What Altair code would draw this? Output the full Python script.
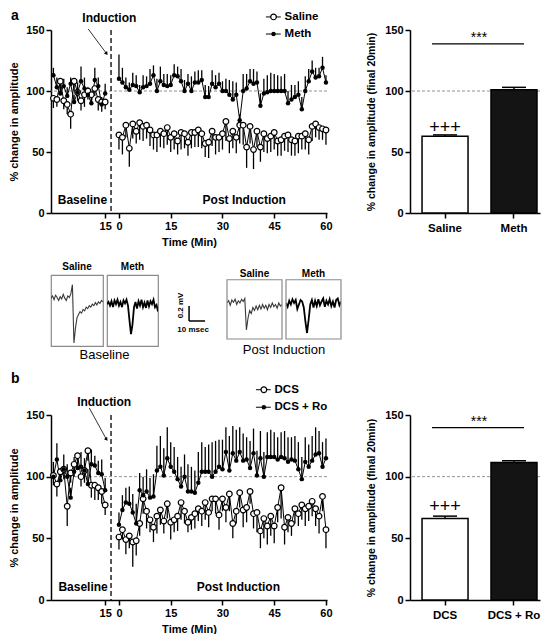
import altair as alt
import pandas as pd

FONT = "Liberation Sans"

# ---------------- shared time axis ----------------
base_minutes = list(range(16))
post_minutes = list(range(61))
post_offset = 19            # post-induction minute 0 sits at 19 on the shared axis
induction_at = 16.7
tick_values = [15, 19, 34, 49, 64, 79]

# ---------------- panel a : time course ----------------
saline_a_base = [94, 93, 108, 92, 89, 81, 108, 99, 92, 97, 100, 97, 102, 93, 91, 91]
saline_a_base_err = [8, 6, 6, 7, 8, 12, 8, 7, 8, 10, 7, 8, 6, 9, 8, 6]
meth_a_base = [113, 103, 98, 104, 96, 106, 91, 99, 108, 102, 97, 90, 109, 104, 89, 98]
meth_a_base_err = [6, 8, 5, 6, 7, 5, 6, 8, 12, 9, 6, 8, 10, 7, 6, 8]

saline_a_post = [64, 62, 72, 53, 73, 67, 74, 71, 72, 68,
                 64, 64, 67, 65, 70, 62, 65, 59, 66, 65,
                 58, 66, 66, 68, 65, 57, 58, 67, 62, 62,
                 65, 75, 61, 67, 62, 72, 72, 54, 71, 52,
                 67, 54, 65, 61, 63, 66, 59, 60, 63, 64,
                 60, 59, 63, 63, 65, 60, 71, 73, 70, 69,
                 68]
saline_a_post_err = [12, 14, 10, 15, 12, 10, 14, 12, 11, 13,
                     12, 14, 13, 12, 14, 12, 13, 11, 14, 12,
                     11, 13, 12, 14, 12, 11, 13, 12, 14, 12,
                     13, 16, 12, 14, 13, 15, 16, 17, 14, 16,
                     13, 12, 15, 12, 13, 14, 12, 13, 12, 14,
                     13, 12, 14, 11, 13, 12, 12, 11, 10, 9,
                     12]
meth_a_post = [110, 107, 103, 101, 105, 104, 99, 103, 104, 106,
               113, 100, 108, 105, 104, 105, 113, 112, 108, 100,
               106, 100, 107, 107, 109, 95, 95, 106, 103, 106,
               100, 100, 97, 93, 97, 76, 100, 102, 108, 106,
               107, 88, 98, 99, 100, 100, 100, 100, 100, 90,
               93, 95, 97, 85, 100, 108, 116, 111, 112, 119,
               107]
meth_a_post_err = [20, 12, 8, 6, 10, 9, 6, 10, 8, 12,
                   8, 10, 12, 9, 10, 8, 9, 8, 10, 9,
                   8, 12, 9, 10, 8, 10, 9, 11, 10, 9,
                   8, 10, 12, 15, 10, 5, 14, 12, 10, 12,
                   9, 10, 12, 14, 15, 14, 13, 12, 14, 10,
                   12, 10, 11, 10, 12, 10, 9, 8, 7, 9,
                   6]

# ---------------- panel b : time course ----------------
dcs_b_base = [101, 94, 104, 106, 76, 103, 110, 117, 100, 105, 121, 93, 93, 91, 88, 77]
dcs_b_base_err = [8, 10, 8, 8, 16, 8, 10, 6, 8, 10, 8, 10, 12, 10, 10, 8]
ro_b_base = [100, 114, 97, 106, 100, 83, 104, 107, 108, 105, 94, 110, 109, 103, 102, 89]
ro_b_base_err = [12, 13, 10, 12, 10, 8, 12, 10, 12, 10, 12, 12, 8, 10, 12, 10]

dcs_b_post = [51, 57, 49, 52, 47, 48, 62, 82, 72, 65,
              59, 68, 73, 64, 78, 63, 65, 68, 79, 72,
              63, 67, 70, 74, 72, 79, 71, 82, 82, 69,
              82, 75, 86, 62, 72, 87, 73, 75, 88, 70,
              71, 56, 66, 60, 68, 60, 75, 91, 59, 67,
              62, 74, 70, 77, 74, 76, 80, 74, 68, 84,
              57]
dcs_b_post_err = [10, 8, 12, 10, 20, 12, 10, 12, 14, 10,
                  12, 14, 12, 10, 12, 14, 10, 12, 14, 10,
                  8, 10, 12, 10, 12, 14, 12, 10, 12, 12,
                  10, 12, 14, 12, 10, 12, 14, 12, 10, 12,
                  16, 14, 16, 15, 16, 14, 12, 25, 14, 12,
                  10, 12, 10, 12, 14, 12, 12, 14, 14, 12,
                  15]
ro_b_post = [61, 73, 79, 78, 71, 62, 89, 85, 88, 83,
             84, 105, 108, 101, 115, 108, 104, 98, 92, 100,
             88, 88, 87, 95, 104, 104, 104, 100, 104, 108,
             106, 120, 105, 119, 113, 120, 113, 114, 107, 119,
             101, 115, 100, 116, 116, 116, 114, 116, 115, 112,
             114, 113, 106, 98, 112, 108, 113, 118, 119, 108,
             115]
ro_b_post_err = [10, 12, 12, 14, 15, 16, 14, 15, 18, 16,
                 18, 20, 25, 22, 25, 20, 20, 18, 16, 18,
                 22, 20, 18, 25, 24, 20, 22, 28, 25, 22,
                 24, 20, 28, 22, 25, 20, 22, 18, 22, 20,
                 20, 22, 20, 20, 22, 20, 18, 20, 22, 20,
                 18, 20, 22, 18, 20, 18, 20, 22, 18, 20,
                 16]

# ---------------- summary bars ----------------
cats_a = ["Saline", "Meth"]
means_a = [63, 101]
sems_a = [1, 2]
cats_b = ["DCS", "DCS + Ro"]
means_b = [66, 111.4]
sems_b = [2, 1.5]

# ---------------- example traces (mV vs ms) ----------------
trace_ms = list(range(35))
trace_base_saline = [0.00, 0.03, -0.02, 0.04, 0.01, -0.03, 0.02, -0.01, 0.05, 0.00,
                     -0.03, 0.03, 0.01, 0.06, 0.18, -0.60, -0.40, -0.26, -0.22, -0.18,
                     -0.20, -0.15, -0.17, -0.12, -0.14, -0.10, -0.12, -0.08, -0.10, -0.06,
                     -0.09, -0.05, -0.07, -0.03, -0.05]
trace_base_meth = [-0.08, -0.05, -0.10, -0.04, -0.12, -0.03, -0.08, -0.02, -0.10, -0.05,
                   -0.12, -0.03, -0.07, -0.02, -0.10, -0.30, -0.48, -0.35, -0.12, -0.05,
                   -0.14, -0.04, -0.10, -0.02, -0.12, -0.06, -0.13, -0.03, -0.11, -0.04,
                   -0.08, -0.02, -0.12, -0.09, -0.18]
trace_post_saline = [0.00, 0.03, -0.03, 0.04, 0.01, 0.05, -0.02, 0.03, 0.00, 0.05,
                     0.02, 0.06, -0.36, -0.20, -0.10, -0.14, -0.06, -0.10, -0.04, -0.09,
                     -0.03, -0.08, -0.02, -0.07, -0.03, -0.09, -0.02, -0.06, 0.00, -0.05,
                     -0.02, -0.07, 0.00, -0.04, -0.02]
trace_post_meth = [0.00, -0.05, 0.03, -0.02, 0.05, 0.00, 0.04, -0.08, -0.02, 0.04,
                   0.02, -0.06, -0.25, -0.40, -0.22, -0.02, 0.04, -0.06, 0.03, -0.04,
                   0.05, -0.03, 0.02, 0.06, -0.05, 0.03, -0.02, 0.05, -0.04, 0.02,
                   -0.06, 0.04, 0.06, -0.03, 0.02]
base_window_mv = [-0.64, 0.31]
post_window_mv = [-0.48, 0.31]
scale_bar_ms = 10
scale_bar_mv = 0.2


def course(base_vals, base_err, post_vals, post_err, up):
    tc = base_minutes + [m + post_offset for m in post_minutes]
    vals = base_vals + post_vals
    errs = base_err + post_err
    seg = ["base"] * len(base_vals) + ["post"] * len(post_vals)
    end = [v + e if up else v - e for v, e in zip(vals, errs)]
    return pd.DataFrame({"tc": tc, "value": vals, "end": end, "seg": seg})


def time_course(df_open, df_fill, labels, leg_y, leg_x, notes, arrow, letter, letter_y, height):
    xs = alt.Scale(domain=[-0.7, 79.3], nice=False, zero=False)
    ys = alt.Scale(domain=[0, 150], nice=False, zero=False)
    xax = alt.Axis(values=tick_values,
                   labelExpr="datum.value < 17 ? '15' : format(datum.value - 19, 'd')",
                   title="Time (Min)", labelFlush=False, labelOverlap=False, titlePadding=5)
    yax = alt.Axis(values=[0, 50, 100, 150], title="% change in amplitude", titlePadding=6)

    def X(f):
        return alt.X(f, type="quantitative", scale=xs, axis=xax)

    def Y(f):
        return alt.Y(f, type="quantitative", scale=ys, axis=yax)

    hundred = alt.Chart(pd.DataFrame({"v": [100]})).mark_rule(
        color="#777777", strokeWidth=0.8, strokeDash=[3, 2]).encode(y=Y("v"))
    vline = alt.Chart(pd.DataFrame({"v": [induction_at]})).mark_rule(
        color="black", strokeWidth=1.3, strokeDash=[5, 3]).encode(x=X("v"))

    def err(df):
        return alt.Chart(df).mark_rule(color="black", strokeWidth=1.3).encode(
            x=X("tc"), y=Y("value"), y2="end")

    def line(df):
        return alt.Chart(df).mark_line(color="black", strokeWidth=1).encode(
            x=X("tc"), y=Y("value"), detail="seg:N")

    def open_pts(df, xf, yf):
        return alt.Chart(df).mark_point(shape="circle", filled=True, fill="white", stroke="black",
                                        strokeWidth=1.2, size=32, opacity=1).encode(x=X(xf), y=Y(yf))

    def fill_pts(df, xf, yf):
        return alt.Chart(df).mark_point(shape="circle", filled=True, color="black",
                                        size=20, opacity=1).encode(x=X(xf), y=Y(yf))

    leg = pd.DataFrame({"x0": [leg_x[0]] * 2, "x1": [leg_x[1]] * 2, "xs": [leg_x[2]] * 2,
                        "xt": [leg_x[3]] * 2, "y": leg_y, "label": labels})
    leg_line = alt.Chart(leg).mark_rule(color="black", strokeWidth=1).encode(
        x=X("x0"), x2="x1", y=Y("y"))
    leg_text = alt.Chart(leg).mark_text(align="left", baseline="middle", fontSize=11.5,
                                        fontWeight="bold").encode(x=X("xt"), y=Y("y"), text="label")

    ndf = pd.DataFrame(notes, columns=["label", "x", "y"])
    note_text = alt.Chart(ndf).mark_text(fontSize=12, fontWeight="bold", baseline="middle").encode(
        x=X("x"), y=Y("y"), text="label")

    ldf = pd.DataFrame({"label": [letter], "x": [-12.3], "y": [letter_y]})
    letter_text = alt.Chart(ldf).mark_text(fontSize=14, fontWeight="bold", align="left",
                                           baseline="top").encode(
        x=X("x"), y=Y("y"), text="label")

    adf = pd.DataFrame({"x": [arrow[0]], "y": [arrow[1]], "x2": [arrow[2]], "y2": [arrow[3]]})
    arr_line = alt.Chart(adf).mark_rule(color="black", strokeWidth=0.8).encode(
        x=X("x"), y=Y("y"), x2="x2", y2="y2")
    arr_head = alt.Chart(adf).mark_point(shape="triangle", filled=True, color="black", size=16,
                                         angle=143, opacity=1).encode(x=X("x2"), y=Y("y2"))

    return alt.layer(
        hundred, vline, err(df_open), err(df_fill), line(df_open), line(df_fill),
        open_pts(df_open, "tc", "value"), fill_pts(df_fill, "tc", "value"),
        leg_line, open_pts(leg.iloc[[0]], "xs", "y"), fill_pts(leg.iloc[[1]], "xs", "y"), leg_text,
        note_text, letter_text, arr_line, arr_head,
    ).properties(width=276, height=height)


def summary(cats, means, sems, plus_y, sig_y, star_y, height):
    xs = alt.Scale(domain=cats, paddingInner=0.333, paddingOuter=0.109, align=0.8)
    xax = alt.Axis(title=None, labelAngle=0, labelFontSize=11.5, labelPadding=4)
    ys = alt.Scale(domain=[0, 150], nice=False, zero=False)
    yax = alt.Axis(values=[0, 50, 100, 150], title="% change in amplitude (final 20min)",
                   titlePadding=8, titleFontSize=10.5)

    def X(f):
        return alt.X(f, type="nominal", scale=xs, axis=xax, sort=cats)

    def Y(f):
        return alt.Y(f, type="quantitative", scale=ys, axis=yax)

    df = pd.DataFrame({"cat": cats, "mean": means, "top": [m + s for m, s in zip(means, sems)]})
    hundred = alt.Chart(pd.DataFrame({"v": [100]})).mark_rule(
        color="#777777", strokeWidth=0.8, strokeDash=[3, 2]).encode(y=Y("v"))
    bars = alt.Chart(df).mark_bar(stroke="black", strokeWidth=1.5).encode(
        x=X("cat"), y=Y("mean"),
        fill=alt.Fill("cat:N", scale=alt.Scale(domain=cats, range=["white", "#141414"]), legend=None))
    errbar = alt.Chart(df).mark_rule(color="black", strokeWidth=1.5).encode(
        x=X("cat"), y=Y("mean"), y2="top")
    cap = alt.Chart(df).mark_tick(color="black", thickness=1.5, size=24, opacity=1).encode(
        x=X("cat"), y=Y("top"))
    pdf = pd.DataFrame({"cat": [cats[0]], "y": [plus_y], "label": ["+++"]})
    plus = alt.Chart(pdf).mark_text(fontSize=18, fontWeight="normal", baseline="middle").encode(
        x=X("cat"), y=Y("y"), text="label")
    sdf = pd.DataFrame({"c1": [cats[0]], "c2": [cats[1]], "y": [sig_y], "ys": [star_y], "label": ["***"]})
    sig = alt.Chart(sdf).mark_rule(color="black", strokeWidth=1.3, xOffset=-13, x2Offset=10).encode(
        x=X("c1"), x2="c2", y=Y("y"))
    star = alt.Chart(sdf).mark_text(fontSize=14, dx=34, baseline="middle").encode(
        x=X("c1"), y=Y("ys"), text="label")
    return alt.layer(hundred, bars, errbar, cap, plus, sig, star).properties(width=130, height=height)


def trace(values, ydom, width, height, title, color, sw, title_offset=3,
          frame=None, note=None):
    df = pd.DataFrame({"ms": trace_ms, "mv": values})
    xs = alt.Scale(domain=[0, 34], nice=False, zero=False)
    ys = alt.Scale(domain=ydom, nice=False, zero=False)
    X = alt.X("ms:Q", scale=xs, axis=None)
    Y = alt.Y("mv:Q", scale=ys, axis=None)
    layers = [alt.Chart(df).mark_line(color=color, strokeWidth=sw, clip=True).encode(x=X, y=Y)]
    if frame is not None:
        fdf = pd.DataFrame({"ms": [0], "ms2": [34], "mv": [frame[0]], "mv2": [frame[1]]})
        layers.append(alt.Chart(fdf).mark_rect(fillOpacity=0, stroke="#8a8a8a", strokeWidth=1.2)
                      .encode(x=X, x2="ms2", y=Y, y2="mv2"))
    if note is not None:
        ndf = pd.DataFrame({"ms": [note[1]], "mv": [note[2]], "label": [note[0]]})
        layers.append(alt.Chart(ndf).mark_text(fontSize=13, fontWeight="normal", baseline="middle")
                      .encode(x=X, y=Y, text="label"))
    props = dict(width=width, height=height,
                 title=alt.TitleParams(title, fontSize=10, fontWeight="bold", offset=title_offset))
    if frame is None:
        props["view"] = alt.ViewBackground(stroke="#8a8a8a", strokeWidth=1.2)
    return alt.layer(*layers).properties(**props)


def spacer(w, h):
    s = alt.Scale(domain=[0, 1], nice=False, zero=False)
    return alt.Chart(pd.DataFrame({"v": [0, 1]})).mark_point(opacity=0, size=1).encode(
        x=alt.X("v:Q", axis=None, scale=s), y=alt.Y("v:Q", axis=None, scale=s)
    ).properties(width=w, height=h)


# ---------------- assemble ----------------
df_sal = course(saline_a_base, saline_a_base_err, saline_a_post, saline_a_post_err, up=False)
df_meth = course(meth_a_base, meth_a_base_err, meth_a_post, meth_a_post_err, up=True)
df_dcs = course(dcs_b_base, dcs_b_base_err, dcs_b_post, dcs_b_post_err, up=False)
df_ro = course(ro_b_base, ro_b_base_err, ro_b_post, ro_b_post_err, up=True)

line_a = time_course(
    df_sal, df_meth, ["Saline", "Meth"], [160.7, 146.7], [61.6, 65.9, 63.8, 67.0],
    [("Baseline", 8.4, 10.6), ("Post Induction", 55.3, 10.6), ("Induction", 16.2, 160)],
    (10.1, 150.8, 15.3, 131), "a", 167.5, 183)
bar_a = summary(cats_a, means_a, sems_a, 69.7, 138.7, 143.5, 183)

line_b = time_course(
    df_dcs, df_ro, ["DCS", "DCS + Ro"], [170.5, 156.3], [58.7, 63.0, 61.0, 64.1],
    [("Baseline", 8.6, 10.8), ("Post Induction", 53.6, 10.8), ("Induction", 14.7, 160.8)],
    (10.4, 155.7, 15.3, 130.6), "b", 184.5, 185)
bar_b = summary(cats_b, means_b, sems_b, 75.7, 139.7, 144.6, 185)

# scale bar
sb = pd.DataFrame({"x": [0, 0], "x2": [scale_bar_ms, 0], "y": [0, 0], "y2": [0, scale_bar_mv]})
sbx = alt.Scale(domain=[-16.9, 21.2], nice=False, zero=False)
sby = alt.Scale(domain=[-0.40, 0.613], nice=False, zero=False)
sb_rule = alt.Chart(sb).mark_rule(color="black", strokeWidth=1.5).encode(
    x=alt.X("x:Q", scale=sbx, axis=None), x2="x2",
    y=alt.Y("y:Q", scale=sby, axis=None), y2="y2")
sb_v = alt.Chart(pd.DataFrame({"x": [-5], "y": [0.207], "label": ["0.2 mV"]})).mark_text(
    fontSize=8, fontWeight="bold", angle=270, baseline="middle").encode(
    x=alt.X("x:Q", scale=sbx, axis=None), y=alt.Y("y:Q", scale=sby, axis=None), text="label")
sb_h = alt.Chart(pd.DataFrame({"x": [2.5], "y": [-0.12], "label": ["10 msec"]})).mark_text(
    fontSize=8, fontWeight="bold", baseline="middle").encode(
    x=alt.X("x:Q", scale=sbx, axis=None), y=alt.Y("y:Q", scale=sby, axis=None), text="label")
scale_bar = alt.layer(sb_rule, sb_v, sb_h).properties(width=61, height=76)

post_view = [post_window_mv[0], post_window_mv[0] + 64 / 75]
row2 = alt.hconcat(
    trace(trace_base_saline, base_window_mv, 52, 71, "Saline", "#3a3a3a", 1.1,
          note=("Baseline", 35, -0.76)),
    trace(trace_base_meth, base_window_mv, 51, 71, "Meth", "black", 1.8),
    scale_bar,
    trace(trace_post_saline, post_view, 55, 64, "Saline", "#3a3a3a", 1.1, title_offset=-4,
          frame=post_window_mv, note=("Post Induction", 35.2, -0.62)),
    trace(trace_post_meth, post_view, 55, 64, "Meth", "black", 1.8, title_offset=-4,
          frame=post_window_mv),
    spacing=4, bounds="flush",
)

row1 = alt.hconcat(line_a, bar_a, spacing=83, bounds="flush")
row3 = alt.hconcat(line_b, bar_b, spacing=83, bounds="flush")

chart = alt.vconcat(row1, spacer(1, 12), row2, spacer(1, 7), row3, spacing=0).properties(
    padding=0
).configure(font=FONT).configure_view(stroke=None).configure_axis(
    labelFont=FONT, titleFont=FONT, labelFontSize=11, labelFontWeight="bold",
    titleFontSize=11, titleFontWeight="bold", labelColor="black", titleColor="black",
    domainColor="black", tickColor="black", domainWidth=1.5, tickWidth=1.5, tickSize=5,
    grid=False, labelPadding=2,
).configure_title(font=FONT, color="black")

chart.save("out.html", embed_options={"renderer": "svg", "actions": False})
